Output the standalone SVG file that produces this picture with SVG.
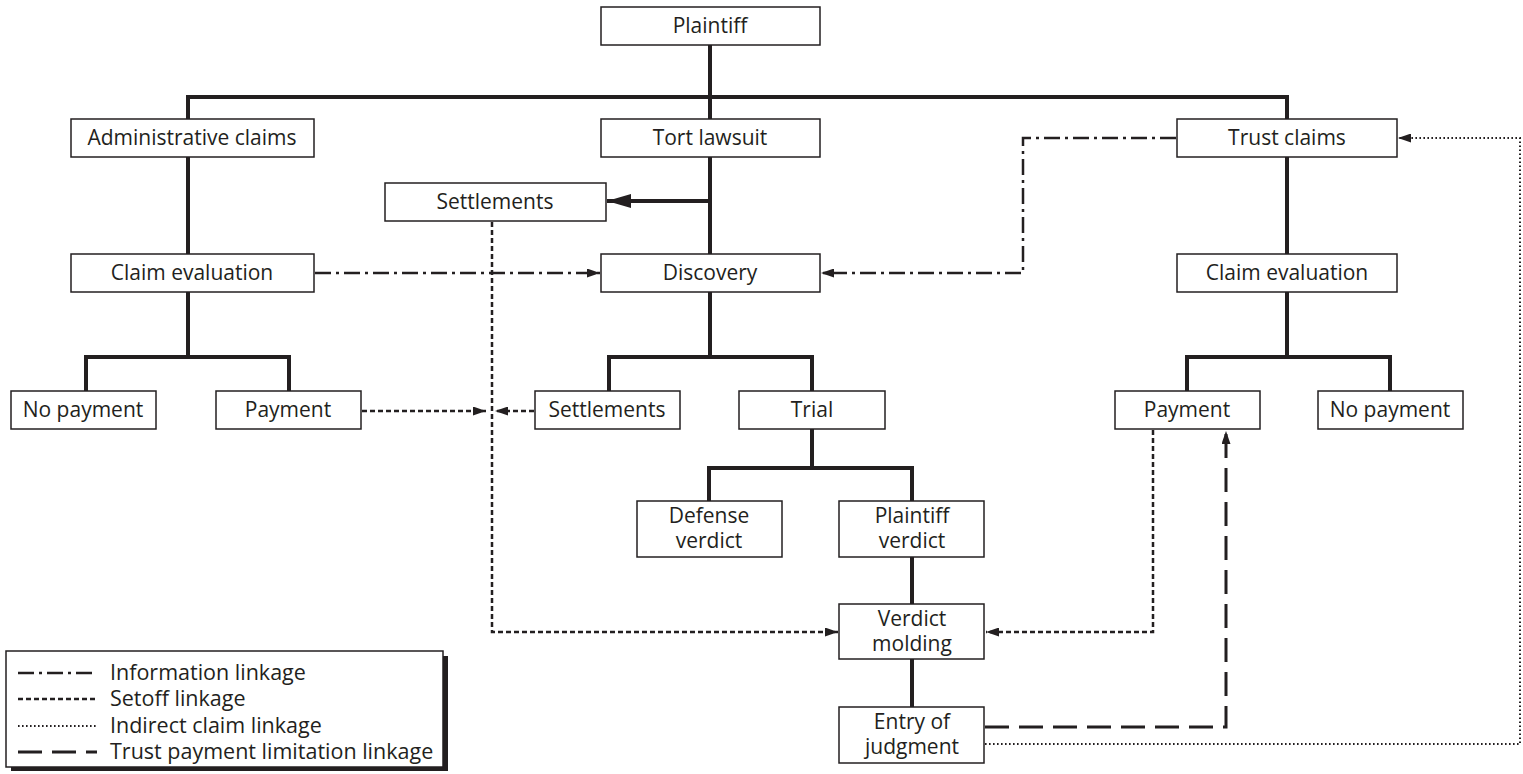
<svg xmlns="http://www.w3.org/2000/svg" width="1523" height="774" viewBox="0 0 1523 774">
<style>
.box{fill:#fff;stroke:#231f20;stroke-width:1.5}
.t{font-family:"Open Sans","Noto Sans","Liberation Sans",sans-serif;font-size:21px;fill:#231f20;text-anchor:middle}
.lt{font-family:"Open Sans","Noto Sans","Liberation Sans",sans-serif;font-size:21.5px;fill:#231f20}
.tree{fill:none;stroke:#231f20;stroke-width:4;stroke-linejoin:miter}
.info{fill:none;stroke:#231f20;stroke-width:2.5;stroke-dasharray:16 5 3 5}
.setoff{fill:none;stroke:#231f20;stroke-width:2.5;stroke-dasharray:5 3}
.ind{fill:none;stroke:#231f20;stroke-width:2;stroke-dasharray:1.6 2.4}
.lim{fill:none;stroke:#231f20;stroke-width:3;stroke-dasharray:24 10}
</style>
<defs>
<marker id="big" viewBox="0 0 24 14" markerWidth="24" markerHeight="14" refX="24" refY="7" orient="auto" markerUnits="userSpaceOnUse"><path d="M0,0 L24,7 L0,14 z" fill="#231f20"/></marker>
<marker id="sm" viewBox="0 0 13 9" markerWidth="13" markerHeight="9" refX="13" refY="4.5" orient="auto" markerUnits="userSpaceOnUse"><path d="M0,0 L13,4.5 L0,9 z" fill="#231f20"/></marker>
</defs>

<g id="connectors">
<polyline class="tree" points="710,45 710,119"/>
<polyline class="tree" points="188,119 188,97 1287,97 1287,119"/>
<polyline class="tree" points="188,157 188,254"/>
<polyline class="tree" points="188,292 188,357"/>
<polyline class="tree" points="86,391 86,357 289,357 289,391"/>
<polyline class="tree" points="710,157 710,254"/>
<line class="tree" x1="710" y1="201" x2="607" y2="201" marker-end="url(#big)"/>
<polyline class="tree" points="710,292 710,357"/>
<polyline class="tree" points="609,391 609,357 812,357 812,391"/>
<polyline class="tree" points="812,429 812,468"/>
<polyline class="tree" points="709,501 709,468 912,468 912,501"/>
<polyline class="tree" points="912,557 912,604"/>
<polyline class="tree" points="912,659 912,707"/>
<polyline class="tree" points="1287,157 1287,254"/>
<polyline class="tree" points="1287,292 1287,357"/>
<polyline class="tree" points="1187,391 1187,357 1390,357 1390,391"/>

<line class="info" x1="315" y1="273" x2="600" y2="273" marker-end="url(#sm)"/>
<polyline class="info" points="1176,138 1023,138 1023,273 821,273" marker-end="url(#sm)"/>

<line class="setoff" x1="362" y1="411" x2="486" y2="411" marker-end="url(#sm)"/>
<line class="setoff" x1="534" y1="411" x2="495" y2="411" marker-end="url(#sm)"/>
<polyline class="setoff" points="492,222 492,632 838,632" marker-end="url(#sm)"/>
<polyline class="setoff" points="1153,430 1153,632 986,632" marker-end="url(#sm)"/>

<polyline class="lim" points="985,727 1226,727 1226,431" marker-end="url(#sm)"/>
<polyline class="ind" points="985,744 1520,744 1520,138 1398,138" marker-end="url(#sm)"/>
</g>

<g id="plaintiff"><rect class="box" x="601" y="7" width="219" height="38"/><text class="t" x="710" y="33">Plaintiff</text></g>
<g id="admin-claims"><rect class="box" x="71" y="119" width="243" height="38"/><text class="t" x="192" y="145">Administrative claims</text></g>
<g id="tort-lawsuit"><rect class="box" x="601" y="119" width="219" height="38"/><text class="t" x="710" y="145">Tort lawsuit</text></g>
<g id="trust-claims"><rect class="box" x="1177" y="119" width="220" height="38"/><text class="t" x="1287" y="145">Trust claims</text></g>
<g id="settlements-top"><rect class="box" x="385" y="183" width="221" height="38"/><text class="t" x="495" y="209">Settlements</text></g>
<g id="claim-eval-left"><rect class="box" x="71" y="254" width="243" height="38"/><text class="t" x="192" y="280">Claim evaluation</text></g>
<g id="discovery"><rect class="box" x="601" y="254" width="219" height="38"/><text class="t" x="710" y="280">Discovery</text></g>
<g id="claim-eval-right"><rect class="box" x="1177" y="254" width="220" height="38"/><text class="t" x="1287" y="280">Claim evaluation</text></g>
<g id="no-payment-left"><rect class="box" x="11" y="391" width="145" height="38"/><text class="t" x="83" y="417">No payment</text></g>
<g id="payment-left"><rect class="box" x="216" y="391" width="145" height="38"/><text class="t" x="288" y="417">Payment</text></g>
<g id="settlements-mid"><rect class="box" x="535" y="391" width="145" height="38"/><text class="t" x="607" y="417">Settlements</text></g>
<g id="trial"><rect class="box" x="739" y="391" width="146" height="38"/><text class="t" x="812" y="417">Trial</text></g>
<g id="payment-right"><rect class="box" x="1115" y="391" width="145" height="38"/><text class="t" x="1187" y="417">Payment</text></g>
<g id="no-payment-right"><rect class="box" x="1318" y="391" width="145" height="38"/><text class="t" x="1390" y="417">No payment</text></g>
<g id="defense-verdict"><rect class="box" x="637" y="501" width="145" height="56"/><text class="t" x="709" y="523">Defense</text><text class="t" x="709" y="548">verdict</text></g>
<g id="plaintiff-verdict"><rect class="box" x="839" y="501" width="145" height="56"/><text class="t" x="912" y="523">Plaintiff</text><text class="t" x="912" y="548">verdict</text></g>
<g id="verdict-molding"><rect class="box" x="839" y="604" width="145" height="55"/><text class="t" x="912" y="626">Verdict</text><text class="t" x="912" y="651">molding</text></g>
<g id="entry-of-judgment"><rect class="box" x="839" y="707" width="145" height="56"/><text class="t" x="912" y="729">Entry of</text><text class="t" x="912" y="754">judgment</text></g>

<g id="legend">
<rect x="11" y="656" width="437" height="115" fill="#231f20"/>
<rect class="box" x="6" y="651" width="437" height="116"/>
<line class="info" x1="18" y1="673" x2="97" y2="673"/>
<line class="setoff" x1="18" y1="699" x2="97" y2="699"/>
<line class="ind" x1="18" y1="726" x2="97" y2="726"/>
<line class="lim" x1="18" y1="752" x2="97" y2="752" stroke-dasharray="21 8"/>
<text class="lt" x="110" y="680">Information linkage</text>
<text class="lt" x="110" y="706">Setoff linkage</text>
<text class="lt" x="110" y="733">Indirect claim linkage</text>
<text class="lt" x="110" y="759">Trust payment limitation linkage</text>
</g>
</svg>
